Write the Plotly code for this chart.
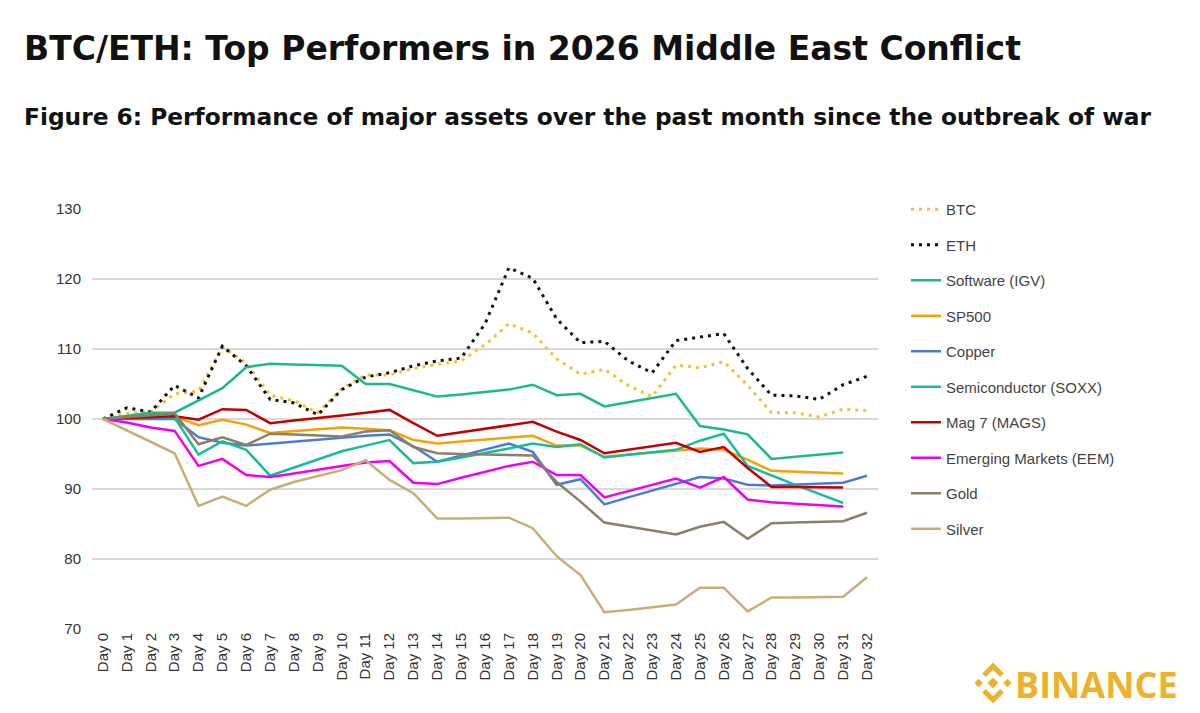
import plotly.graph_objects as go

days = [f"Day {i}" for i in range(33)]

btc = [100, 100.8, 101.0, 103.6, 104.0, 110.3, 108.0, 103.4, 102.6, 100.9, 104.3, 106.3, 106.3, 107.2, 107.8, 108.3, 110.6, 113.6, 112.3, 108.6, 106.4, 107.1, 104.8, 103.2, 107.7, 107.3, 108.2, 104.8, 100.9, 100.9, 100.3, 101.4, 101.2]
eth = [100, 101.6, 101.0, 104.8, 103.0, 110.4, 107.6, 102.8, 102.3, 100.6, 104.2, 106.0, 106.6, 107.6, 108.3, 108.7, 113.6, 121.6, 120.1, 114.3, 110.9, 111.1, 108.3, 106.6, 111.2, 111.7, 112.2, 107.2, 103.4, 103.3, 102.8, 104.9, 106.1]
software = [100, 100.5, 100.9, 100.9, 102.6, 104.4, 107.4, 107.9, 107.8, 107.7, 107.6, 105.0, 105.0, 104.1, 103.2, 103.5, 103.9, 104.2, 104.9, 103.4, 103.6, 101.8, 102.4, 103.0, 103.6, 99.0, 98.5, 97.8, 94.3, 94.6, 94.9, 95.2, None]
sp500 = [100, 100.2, 100.4, 100.3, 99.1, 99.9, 99.2, 98.0, 98.3, 98.6, 98.8, 98.6, 98.4, 97.0, 96.5, 96.8, 97.1, 97.4, 97.6, 96.2, 96.2, 94.6, 94.9, 95.2, 95.5, 95.8, 95.6, 94.2, 92.6, 92.5, 92.4, 92.2, None]
copper = [100, 100.0, 100.0, 100.0, 97.4, 96.6, 96.2, 96.5, 96.8, 97.0, 97.3, 97.6, 97.8, 96.1, 93.9, 94.8, 95.6, 96.5, 95.3, 90.6, 91.4, 87.8, 88.8, 89.8, 90.8, 91.7, 91.5, 90.6, 90.5, 90.6, 90.7, 90.9, 91.9]
semis = [100, 100.2, 100.3, 100.2, 94.9, 96.8, 95.6, 91.9, 93.1, 94.3, 95.4, 96.2, 97.0, 93.7, 93.9, 94.5, 95.1, 95.8, 96.5, 96.0, 96.4, 94.5, 94.9, 95.2, 95.6, 96.9, 97.9, 93.3, 91.9, 90.6, 89.3, 88.0, None]
mag7 = [100, 100.1, 100.3, 100.4, 99.9, 101.4, 101.3, 99.4, 99.8, 100.1, 100.5, 100.9, 101.3, 99.4, 97.6, 98.1, 98.6, 99.1, 99.6, 98.2, 97.0, 95.1, 95.6, 96.1, 96.6, 95.3, 96.0, 93.0, 90.3, 90.3, 90.3, 90.2, None]
eem = [100, 99.5, 98.8, 98.3, 93.3, 94.3, 92.0, 91.7, 92.2, 92.8, 93.3, 93.8, 94.0, 90.9, 90.7, 91.6, 92.4, 93.3, 93.9, 92.0, 92.0, 88.8, 89.7, 90.6, 91.5, 90.2, 91.7, 88.5, 88.1, 87.9, 87.7, 87.5, None]
gold = [100, 100.3, 100.5, 100.8, 96.4, 97.4, 96.3, 97.9, 97.8, 97.6, 97.5, 98.2, 98.4, 96.0, 95.1, 95.0, 94.9, 94.8, 94.8, 91.0, 88.2, 85.2, 84.6, 84.0, 83.5, 84.6, 85.3, 82.9, 85.1, 85.2, 85.3, 85.4, 86.6]
silver = [100, 98.4, 96.8, 95.1, 87.6, 88.9, 87.6, 89.9, 91.0, 91.8, 92.7, 94.1, 91.3, 89.4, 85.8, 85.8, 85.9, 85.9, 84.4, 80.4, 77.7, 72.4, 72.7, 73.1, 73.5, 75.9, 75.9, 72.5, 74.5, 74.5, 74.6, 74.6, 77.4]

series = [
    ("BTC", btc, "#F1C232", "3px,5px", 3),
    ("ETH", eth, "#111111", "3px,5px", 3),
    ("Software (IGV)", software, "#1BB98C", "solid", 2.5),
    ("SP500", sp500, "#F5A20A", "solid", 2.5),
    ("Copper", copper, "#4C7BD6", "solid", 2.5),
    ("Semiconductor (SOXX)", semis, "#19BC9A", "solid", 2.5),
    ("Mag 7 (MAGS)", mag7, "#C20000", "solid", 2.5),
    ("Emerging Markets (EEM)", eem, "#F000F0", "solid", 2.5),
    ("Gold", gold, "#8C7F69", "solid", 2.5),
    ("Silver", silver, "#C8AF78", "solid", 2.5),
]

fig = go.Figure()
for name, vals, color, dash, w in series:
    fig.add_trace(go.Scatter(
        x=days, y=vals, name=name, mode="lines",
        line=dict(color=color, width=w, dash=dash),
        legendgroup=name, connectgaps=False,
    ))

OFF = 8  # page body margin
W, H = 1200 - OFF, 713 - OFF
L, R, T, B = 92 - OFF, 878 - OFF, 209 - OFF, 629 - OFF

def px(x):
    return (x - OFF - L) / (R - L)

def py(y):
    return (B - (y - OFF)) / (B - T)

# Binance logo (decorative)
cx, cy, s = 993, 683, 1.2
def pth(points):
    return "M " + " L ".join(f"{px(cx + a*s)},{py(cy + b*s)}" for a, b in points) + " Z"

logo_color = "#ECB22E"
shapes = []
d = 4.5
shapes.append(pth([(0, -d), (d, 0), (0, d), (-d, 0)]))
for ox in (-12, 12):
    shapes.append(pth([(ox, -d + 1), (ox + d - 1, 0), (ox, d - 1), (ox - d + 1, 0)]))
shapes.append(pth([(0, -17), (9, -8), (6, -5), (0, -11), (-6, -5), (-9, -8)]))
shapes.append(pth([(0, 17), (9, 8), (6, 5), (0, 11), (-6, 5), (-9, 8)]))

fig.update_layout(
    width=W, height=H,
    margin=dict(l=L, r=W - R, t=T, b=H - B),
    paper_bgcolor="white", plot_bgcolor="white",
    font=dict(family="Liberation Sans, Arial", size=15, color="#444444"),
    xaxis=dict(
        type="category", range=[-0.46, 32.46], tickangle=-90,
        showgrid=False, zeroline=False, showline=False, ticks="",
        tickfont=dict(size=15, color="#333333"),
    ),
    yaxis=dict(
        range=[70, 130], dtick=10, showgrid=True, gridcolor="#D9D9D9", gridwidth=1.5,
        zeroline=False, showline=False, ticks="", ticklabelstandoff=10,
        tickfont=dict(size=15, color="#333333"),
    ),
    legend=dict(
        x=px(906), y=py(193), xanchor="left", yanchor="top",
        font=dict(size=15, color="#444444"), tracegroupgap=13,
        itemwidth=30, bgcolor="rgba(0,0,0,0)",
    ),
    showlegend=True,
    shapes=[dict(type="path", path=p, xref="paper", yref="paper",
                 fillcolor=logo_color, line=dict(width=0)) for p in shapes],
    annotations=[
        dict(text="<b>BTC/ETH: Top Performers in 2026 Middle East Conflict</b>",
             x=px(22), y=py(48), xref="paper", yref="paper", xanchor="left", yanchor="middle",
             showarrow=False, font=dict(family="DejaVu Sans", size=33, color="#111111")),
        dict(text="<b>Figure 6: Performance of major assets over the past month since the outbreak of war</b>",
             x=px(22), y=py(117), xref="paper", yref="paper", xanchor="left", yanchor="middle",
             showarrow=False, font=dict(family="DejaVu Sans", size=23.3, color="#111111")),
        dict(text="<b>BINANCE</b>",
             x=px(1013), y=py(684), xref="paper", yref="paper", xanchor="left", yanchor="middle",
             showarrow=False, font=dict(family="Open Sans, Inter", size=36, color=logo_color)),
    ],
)

fig.write_html("out.html")
